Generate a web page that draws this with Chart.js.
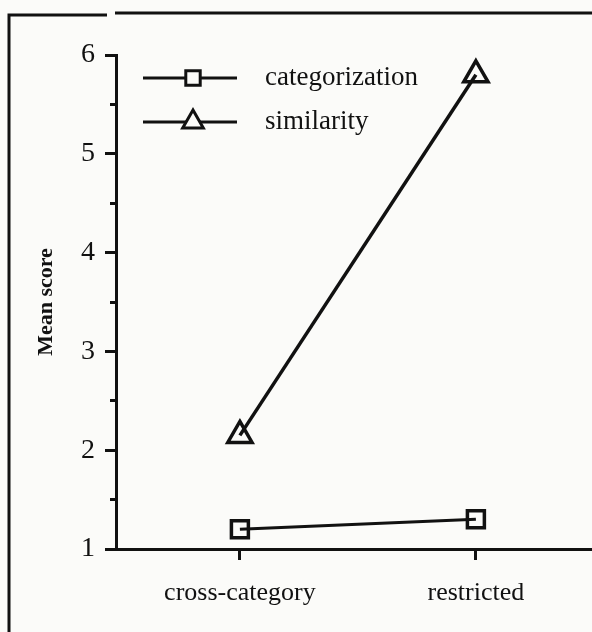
<!DOCTYPE html>
<html><head><meta charset="utf-8">
<script src="https://cdn.jsdelivr.net/npm/chart.js@4.4.0/dist/chart.umd.min.js"></script>
<style>html,body{margin:0;padding:0;background:#fbfbf9;}canvas{display:block}</style>
</head><body>
<canvas id="c" width="592" height="632"></canvas>
<script>
// ---- data ----
const categories = ['cross-category', 'restricted'];
const seriesNames = ['categorization', 'similarity'];
const categorization = [1.2, 1.3];
const similarity = [2.15, 5.8];
const yTickValues = [1, 2, 3, 4, 5, 6];
const yAxisTitle = 'Mean score';

const INK = '#111111';
const SERIF = '"Liberation Serif", "DejaVu Serif", serif';

const toPoints = arr => arr.map((v, i) => ({x: i, y: v}));

const framePlugin = {
  id: 'frame',
  beforeDraw(chart) {
    const ctx = chart.ctx;
    ctx.save();
    ctx.fillStyle = '#fbfbf9';
    ctx.fillRect(0, 0, chart.width, chart.height);
    ctx.strokeStyle = INK;
    ctx.lineWidth = 3;
    ctx.beginPath();
    ctx.moveTo(9, chart.height); ctx.lineTo(9, 15); ctx.lineTo(107, 15);
    ctx.moveTo(115, 13); ctx.lineTo(chart.width, 13);
    ctx.stroke();
    ctx.restore();
  }
};

const legendPlugin = {
  id: 'lineLegend',
  afterDraw(chart) {
    const ctx = chart.ctx;
    const x1 = 143, x2 = 237, tx = 265, y0 = 78, dy = 44;
    ctx.save();
    chart.data.datasets.forEach((ds, i) => {
      const y = y0 + i * dy;
      ctx.strokeStyle = INK;
      ctx.lineWidth = 3;
      ctx.beginPath(); ctx.moveTo(x1, y); ctx.lineTo(x2, y); ctx.stroke();
      ctx.fillStyle = '#fbfbf9';
      Chart.helpers.drawPoint(ctx, {
        pointStyle: ds.pointStyle, radius: ds.pointRadius * 0.85,
        borderWidth: ds.pointBorderWidth, rotation: 0
      }, (x1 + x2) / 2 + 3, y);
      ctx.fillStyle = INK;
      ctx.font = '27px ' + SERIF;
      ctx.textBaseline = 'middle';
      ctx.textAlign = 'left';
      ctx.fillText(ds.label, tx, y);
    });
    ctx.restore();
  }
};

new Chart(document.getElementById('c'), {
  type: 'line',
  data: {
    datasets: [
      {
        label: seriesNames[0], data: toPoints(categorization),
        borderColor: INK, borderWidth: 3, pointStyle: 'rect', pointRadius: 12,
        pointBorderWidth: 3.5, pointBorderColor: INK, pointBackgroundColor: 'rgba(0,0,0,0)', tension: 0
      },
      {
        label: seriesNames[1], data: toPoints(similarity),
        borderColor: INK, borderWidth: 3.5, pointStyle: 'triangle', pointRadius: 14,
        pointBorderWidth: 3.5, pointBorderColor: INK, pointBackgroundColor: 'rgba(0,0,0,0)', tension: 0
      }
    ]
  },
  options: {
    responsive: false,
    devicePixelRatio: 1,
    animation: false,
    layout: {autoPadding: false, padding: {top: 55, left: 0, right: 0, bottom: 0}},
    plugins: {legend: {display: false}, tooltip: {enabled: false}},
    scales: {
      x: {
        type: 'linear', min: -0.525, max: 1.492,
        afterBuildTicks: s => { s.ticks = categories.map((c, i) => ({value: i})); },
        afterFit: s => { s.height = 83; s.paddingLeft = 0; s.paddingRight = 0; },
        ticks: {
          callback: v => categories[v] !== undefined ? categories[v] : '',
          font: {family: SERIF, size: 26}, color: INK, padding: 18,
          autoSkip: false, maxRotation: 0
        },
        grid: {drawOnChartArea: false, drawTicks: true, tickLength: 11, tickWidth: 3, tickColor: INK},
        border: {display: true, width: 3, color: INK}
      },
      y: {
        type: 'linear', position: 'left', min: 1, max: 6, weight: 1,
        afterBuildTicks: s => { s.ticks = yTickValues.map(v => ({value: v})); },
        afterFit: s => { s.width = 116; },
        ticks: {font: {family: SERIF, size: 28}, color: INK, padding: 10},
        grid: {drawOnChartArea: false, drawTicks: true, tickLength: 11, tickWidth: 3, tickColor: INK},
        border: {display: true, width: 3, color: INK},
        title: {display: true, text: yAxisTitle, color: INK,
          font: {family: SERIF, size: 22, weight: 'bold'}, padding: {top: 33, bottom: 0}}
      },
      yMinor: {
        type: 'linear', position: 'left', min: 1, max: 6, weight: 0,
        afterFit: s => { s.width = 0; },
        ticks: {display: false, stepSize: 0.5},
        grid: {drawOnChartArea: false, drawTicks: true, tickLength: 6, tickWidth: 3, tickColor: INK},
        border: {display: false}
      }
    }
  },
  plugins: [framePlugin, legendPlugin]
});
</script>
</body></html>
